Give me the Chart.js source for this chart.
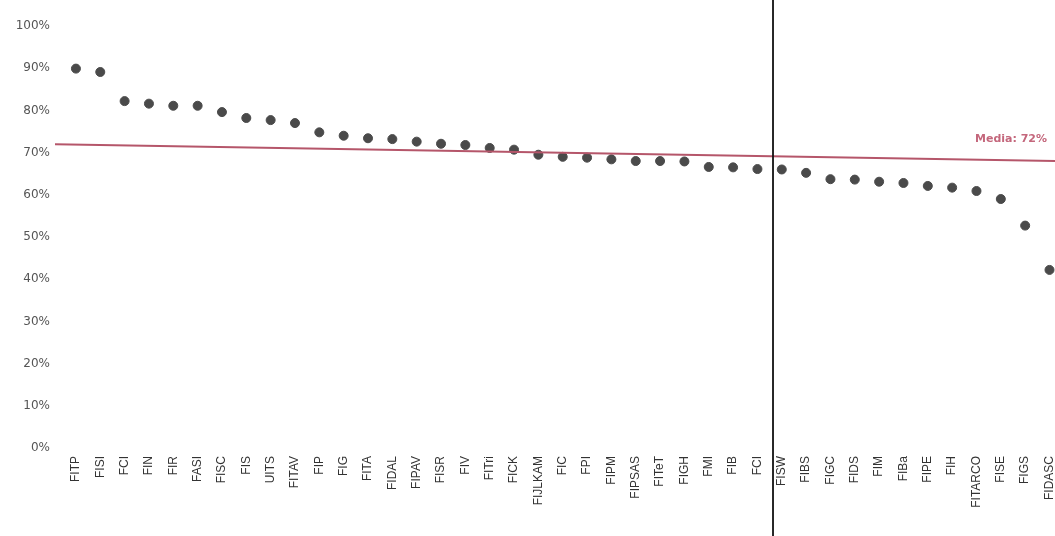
<!DOCTYPE html>
<html>
<head>
<meta charset="utf-8">
<script src="https://cdn.jsdelivr.net/npm/chart.js@4"></script>
<style>
  html, body { margin: 0; padding: 0; background: #fff; overflow: hidden; }
  #wrap { width: 1055px; height: 536px; }
</style>
</head>
<body>
<div id="wrap"><canvas id="c" width="1055" height="536"></canvas></div>
<script>
const categories = ["FITP","FISI","FCI","FIN","FIR","FASI","FISC","FIS","UITS","FITAV","FIP","FIG","FITA","FIDAL","FIPAV","FISR","FIV","FITri","FICK","FIJLKAM","FIC","FPI","FIPM","FIPSAS","FITeT","FIGH","FMI","FIB","FCI","FISW","FIBS","FIGC","FIDS","FIM","FIBa","FIPE","FIH","FITARCO","FISE","FIGS","FIDASC"];
const values = [89.9,89.1,82.2,81.6,81.1,81.1,79.6,78.2,77.7,77.0,74.8,74.0,73.4,73.2,72.6,72.1,71.8,71.1,70.7,69.5,69.0,68.8,68.4,68.0,68.0,67.9,66.6,66.5,66.1,66.0,65.2,63.7,63.6,63.1,62.8,62.1,61.7,60.9,59.0,52.7,42.2];
const yTicks = [0,10,20,30,40,50,60,70,80,90,100];
const meanLabel = "Media: 72%";
const meanLine = [72, 68]; // as drawn (scan is slightly tilted): left end, right end
const dividerAt = 28.64;   // dark vertical line in the scan, in category units

const points = values.map((v, i) => ({ x: i, y: v }));

const overlay = {
  id: 'overlay',
  afterDatasetsDraw(chart) {
    const { ctx, chartArea, scales } = chart;
    const y = scales.y, x = scales.x;
    ctx.save();
    // mean line
    ctx.strokeStyle = '#b5566a';
    ctx.lineWidth = 2;
    ctx.beginPath();
    ctx.moveTo(chartArea.left, y.getPixelForValue(meanLine[0]));
    ctx.lineTo(chart.width, y.getPixelForValue(meanLine[1]));
    ctx.stroke();
    // label
    ctx.fillStyle = '#c4677c';
    ctx.font = 'bold 11px "DejaVu Sans", sans-serif';
    ctx.textAlign = 'right';
    ctx.textBaseline = 'middle';
    ctx.fillText(meanLabel, chart.width - 8, y.getPixelForValue(meanLine[1]) - 22);
    // vertical divider
    const dx = x.getPixelForValue(dividerAt);
    ctx.strokeStyle = '#111';
    ctx.lineWidth = 1.8;
    ctx.beginPath();
    ctx.moveTo(dx, 0);
    ctx.lineTo(dx, chart.height);
    ctx.stroke();
    ctx.restore();
  }
};

new Chart(document.getElementById('c'), {
  type: 'scatter',
  data: {
    datasets: [{
      data: points,
      backgroundColor: '#4a4a4a',
      borderColor: '#4a4a4a',
      pointRadius: 4.5,
      pointHoverRadius: 4.5,
      clip: false
    }]
  },
  options: {
    responsive: false,
    animation: false,
    devicePixelRatio: 1,
    layout: { padding: { top: 26, right: 0, left: 0, bottom: 0 } },
    plugins: { legend: { display: false }, tooltip: { enabled: false } },
    scales: {
      x: {
        type: 'linear',
        min: -0.86,
        max: 40.0,
        grid: { display: false, drawTicks: false },
        border: { display: false },
        afterBuildTicks: (s) => { s.ticks = categories.map((_, i) => ({ value: i })); },
        afterFit: (s) => { s.height = 88; s.paddingLeft = 0; s.paddingRight = 0; },
        ticks: {
          autoSkip: false,
          maxRotation: 90,
          minRotation: 90,
          padding: 8,
          color: '#333',
          font: { family: '"Liberation Sans", Arial, sans-serif', size: 12 },
          callback: (v) => categories[v] !== undefined ? categories[v] : ''
        }
      },
      y: {
        min: 0,
        max: 100,
        grid: { display: false, drawTicks: false },
        border: { display: false },
        afterBuildTicks: (s) => { s.ticks = yTicks.map(v => ({ value: v })); },
        afterFit: (s) => { s.width = 55; s.paddingTop = 0; s.paddingBottom = 0; },
        ticks: {
          padding: 5,
          color: '#555',
          font: { family: '"DejaVu Sans", sans-serif', size: 12 },
          callback: (v) => v + '%'
        }
      }
    }
  },
  plugins: [overlay]
});
</script>
</body>
</html>
